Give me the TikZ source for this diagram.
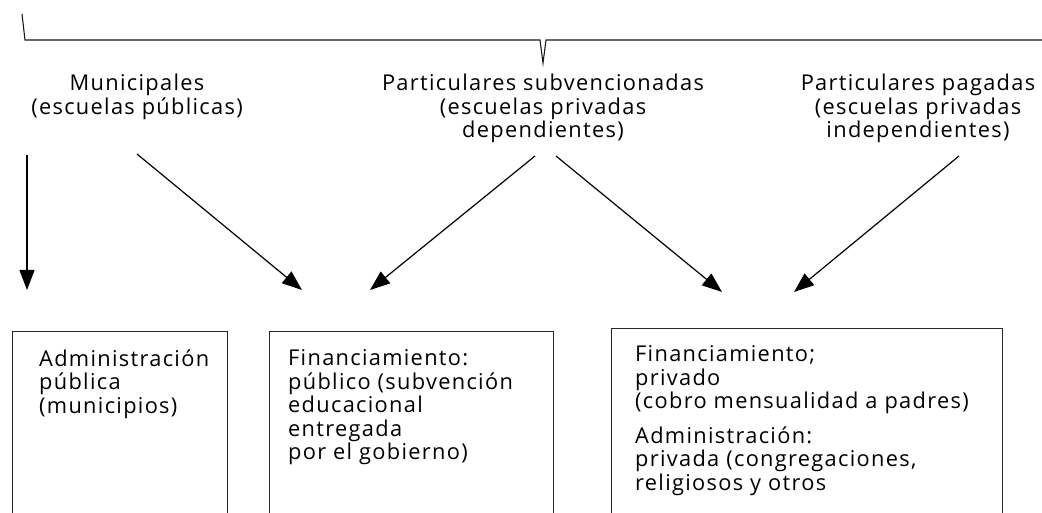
\documentclass[tikz,border=0pt]{standalone}
\usepackage{fontspec}
\setmainfont{Open Sans}[LetterSpace=6]
\usetikzlibrary{arrows.meta}
\begin{document}
\begin{tikzpicture}[x=1pt,y=-1pt,
  txt/.style={inner sep=0pt, font=\fontsize{21.8}{23.5}\selectfont, text=black},
  hdr/.style={txt, align=center, anchor=north},
  boxtxt/.style={txt, align=left, anchor=north west},
  frame/.style={draw=black!85, line width=1pt},
  arr/.style={draw=black, line width=1.2pt, -{Triangle[length=20pt,width=15pt]}},
  brace/.style={draw=black!90, line width=1.1pt}]
\useasboundingbox (0,0) rectangle (1042,513);
% top brace
\draw[brace] (22,14) -- (25,40) -- (540,40) -- (543,63) -- (546,40) -- (1042,40);
% headers
\node[hdr] (mun) at (137,74) {Municipales\\(escuelas públicas)};
\node[hdr] (sub) at (543,74) {Particulares subvencionadas\\(escuelas privadas\\dependientes)};
\node[hdr] (pag) at (918,74) {Particulares pagadas\\(escuelas privadas\\independientes)};
% boxes (open at bottom)
\draw[frame] (12,520) -- (12,331) -- (227,331) -- (227,520);
\draw[frame] (269,520) -- (269,331) -- (553,331) -- (553,520);
\draw[frame] (611,520) -- (611,328) -- (1002,328) -- (1002,520);
\node[boxtxt] (adm) at (39,349.5) {Administración\\pública\\(municipios)};
\node[boxtxt] (fin) at (288,349.5) {Financiamiento:\\público (subvención\\educacional\\entregada\\por el gobierno)};
\node[boxtxt] (priv) at (635,345.5) {Financiamiento;\\privado\\(cobro mensualidad a padres)\\[11pt]Administración:\\privada (congregaciones,\\religiosos y otros};
% arrow coordinates
\coordinate (s1) at (27,155);  \coordinate (e1) at (27,290);
\coordinate (s2) at (137,154); \coordinate (e2) at (302,290);
\coordinate (s3) at (535,156); \coordinate (e3) at (370,290);
\coordinate (s4) at (556,156); \coordinate (e4) at (722,292);
\coordinate (s5) at (959,156); \coordinate (e5) at (794,292);
\draw[arr] (s1) -- (e1);
\draw[arr] (s2) -- (e2);
\draw[arr] (s3) -- (e3);
\draw[arr] (s4) -- (e4);
\draw[arr] (s5) -- (e5);
\end{tikzpicture}
\end{document}
